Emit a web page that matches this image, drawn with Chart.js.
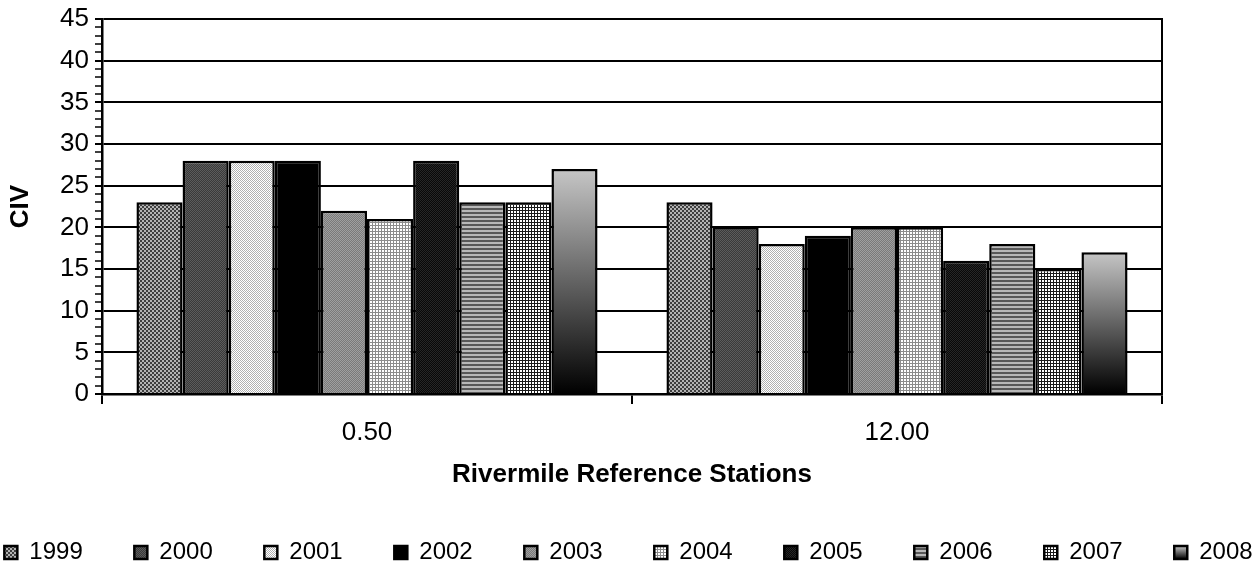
<!DOCTYPE html>
<html>
<head>
<meta charset="utf-8">
<script src="https://cdn.jsdelivr.net/npm/chart.js@4"></script>
<style>
  body { margin: 0; background: #fff; }
</style>
</head>
<body>
<canvas id="civChart" width="1257" height="568"></canvas>
<script>
// stations on the x axis
const stations = ['0.50', '12.00'];
// one series per sampling year
const years = ['1999', '2000', '2001', '2002', '2003', '2004', '2005', '2006', '2007', '2008'];
// CIV values at rivermile 0.50, in year order
const rm050 = [23, 28, 28, 28, 22, 21, 28, 23, 23, 27];
// CIV values at rivermile 12.00, in year order
const rm1200 = [23, 20, 18, 19, 20, 20, 16, 18, 15, 17];
// y axis range and label step
const yMin = 0;
const yMax = 45;
const yLabelStep = 5;

Chart.defaults.font.family = '"Liberation Sans", Arial, sans-serif';
Chart.defaults.color = '#000';

// small tiles used as fill patterns (grayscale like the old Excel fills)
function tile(size, draw) {
  const c = document.createElement('canvas');
  c.width = size;
  c.height = size;
  const g = c.getContext('2d');
  draw(g, size);
  return g.createPattern(c, 'repeat');
}

function checker(a, b, cell) {
  return tile(cell * 2, (g) => {
    g.fillStyle = a; g.fillRect(0, 0, cell * 2, cell * 2);
    g.fillStyle = b; g.fillRect(0, 0, cell, cell); g.fillRect(cell, cell, cell, cell);
  });
}

// gradient for the last series, light on top of each bar, black at the base
function barGradient(context) {
  const chart = context.chart;
  if (!chart.chartArea || context.type !== 'data') return '#808080';
  const y = chart.scales.y;
  const top = y.getPixelForValue(context.raw);
  const base = y.getPixelForValue(0);
  const g = chart.ctx.createLinearGradient(0, top, 0, base);
  g.addColorStop(0, '#c6c6c6');
  g.addColorStop(1, '#000000');
  return g;
}

const fills = [
  checker('#b4b4b4', '#3e3e3e', 2),                 // 1999
  checker('#3a3a3a', '#5c5c5c', 1),                 // 2000
  checker('#ffffff', '#b0b0b0', 1),                 // 2001
  '#000000',                                        // 2002
  checker('#7a7a7a', '#a0a0a0', 1),                 // 2003
  tile(3, (g) => {                                  // 2004
    g.fillStyle = '#ffffff'; g.fillRect(0, 0, 3, 3);
    g.fillStyle = '#8c8c8c'; g.fillRect(0, 0, 3, 1); g.fillRect(0, 0, 1, 3);
  }),
  checker('#080808', '#262626', 1),                 // 2005
  tile(4, (g) => {                                  // 2006
    g.fillStyle = '#b8b8b8'; g.fillRect(0, 0, 4, 4);
    g.fillStyle = '#585858'; g.fillRect(0, 0, 4, 2);
  }),
  tile(3, (g) => {                                  // 2007
    g.fillStyle = '#ffffff'; g.fillRect(0, 0, 3, 3);
    g.fillStyle = '#1a1a1a'; g.fillRect(0, 0, 3, 1); g.fillRect(0, 0, 1, 3);
  }),
  barGradient                                       // 2008
];

const datasets = years.map((yr, i) => ({
  label: yr,
  data: [rm050[i], rm1200[i]],
  backgroundColor: fills[i],
  borderColor: '#000',
  borderWidth: 2.5,
  categoryPercentage: 0.87,
  barPercentage: 1
}));

// the legend swatch of the gradient series gets its own small gradient
const legendGradient = {
  id: 'legendGradient',
  beforeDraw(chart) {
    const legend = chart.legend;
    const i = years.length - 1;
    if (!legend || !legend.legendHitBoxes || !legend.legendHitBoxes[i]) return;
    const hb = legend.legendHitBoxes[i];
    const bh = legend.options.labels.boxHeight;
    const top = hb.top + (hb.height - bh) / 2;
    const g = chart.ctx.createLinearGradient(0, top, 0, top + bh);
    g.addColorStop(0, '#c6c6c6');
    g.addColorStop(1, '#000000');
    legend.legendItems[i].fillStyle = g;
  }
};

const chart = new Chart(document.getElementById('civChart'), {
  type: 'bar',
  data: { labels: stations, datasets: datasets },
  plugins: [legendGradient],
  options: {
    responsive: false,
    animation: false,
    layout: { padding: { left: -60, right: -60, top: 18, bottom: 0 } },
    plugins: {
      tooltip: { enabled: false },
      legend: {
        position: 'bottom',
        maxHeight: 79,
        labels: {
          boxWidth: 13,
          boxHeight: 13,
          padding: 51.6,
          color: '#000',
          font: { size: 24 }
        }
      }
    },
    scales: {
      x: {
        afterFit: (s) => { s.height = 95; },
        grid: {
          offset: true,
          drawOnChartArea: false,
          color: '#000',
          lineWidth: 2,
          tickLength: 10
        },
        border: { color: '#000', width: 2.5 },
        ticks: { font: { size: 26 }, padding: 13, color: '#000' },
        title: {
          display: true,
          text: 'Rivermile Reference Stations',
          font: { size: 26, weight: 'bold', lineHeight: 1 },
          color: '#000',
          padding: { top: 0, bottom: 1 }
        }
      },
      y: {
        min: yMin,
        max: yMax,
        afterFit: (s) => { s.width = 162; },
        grid: {
          color: (c) => (c.tick && c.tick.value % yLabelStep === 0 ? '#000' : 'rgba(0,0,0,0)'),
          lineWidth: 2,
          tickColor: '#000',
          tickWidth: (c) => (c.tick && c.tick.value % yLabelStep === 0 ? 2 : 1.5),
          tickLength: 7
        },
        border: { color: '#000', width: 2.5 },
        ticks: {
          stepSize: 1,
          autoSkip: false,
          padding: 6,
          color: '#000',
          font: { size: 26, lineHeight: 1 },
          callback: (v) => (v % yLabelStep === 0 ? v : '')
        },
        title: {
          display: true,
          text: 'CIV',
          font: { size: 26, weight: 'bold', lineHeight: 1 },
          color: '#000',
          padding: { top: 68, bottom: 0 }
        }
      },
      // right hand frame of the plot area
      yRight: {
        position: 'right',
        min: yMin,
        max: yMax,
        afterFit: (s) => { s.width = 155; },
        grid: { drawOnChartArea: false, drawTicks: false },
        ticks: { display: false },
        border: { display: true, color: '#000', width: 2 }
      }
    }
  }
});
</script>
</body>
</html>
